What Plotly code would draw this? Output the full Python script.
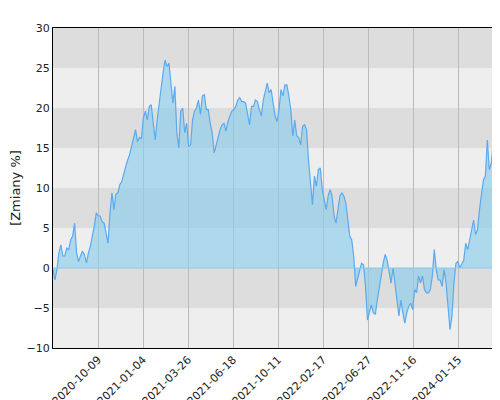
import plotly.graph_objects as go

part1 = [-0.2, -1.5, -0.2, 1.9, 2.9, 1.5, 1.5, 2.5, 2.3, 3.5, 4, 5.6, 1.9, 0.8, 1.5, 2.1, 1.7, 0.6,
         1.9, 2.7, 4, 5.2, 6.9, 6.5, 6.5, 5.8, 5.6, 4.4, 3.1, 6.9, 9.4, 7.3, 9.2, 9.4, 10.4, 10.8,
         11.9, 12.7, 13.5, 14.2, 15.2, 16.5, 17.3, 15.8, 16.3, 16.2, 18.8, 19.6, 18.5, 20.2, 20.4,
         18.1, 16, 18.5, 20.6, 22.7, 24.4, 26, 25.2, 25.6, 23.1, 20.6, 22.7, 16.9, 15, 19.6, 20,
         16.9, 18.1, 15.2, 15.4, 18.5, 19.6, 20, 21, 19.2, 21.5, 21.7, 19.8]
part2 = [19.8, 18.1, 16.9, 14.4, 15.4, 16.5, 17.3, 17.9, 18.1, 17.1, 18.3, 19, 19.6, 19.8, 20.2,
         21, 21.3, 20.8, 20.8, 20.6, 19.4, 17.9, 20.2, 20.2, 21, 20.8, 19.8, 19, 21, 21.9, 23.1,
         21.9, 22.3, 20.6, 19, 18.3, 19.8, 22.3, 21.5, 22.9, 22.9, 21.5, 19.8, 16.5, 18.5, 16.5,
         16.3, 15.4, 17.7, 17.9, 17.3, 13.5, 11, 7.9, 11.5, 10.2, 12.3, 12.5, 9.8, 8.5, 7.3, 9,
         9.8, 9, 6.5, 5.6, 7.3, 9, 9.4, 9, 8.1, 5.6, 4, 3.5, 1.5, -2.3, -1.3]
part3 = [-0.6, 0.6, 0.4, -2.3, -6.5, -5.6, -4.6, -5.6, -5.8, -4, -2.7, -1, 0.6, 1.7, 1, -0.6,
         -1.9, 0, -2.3, -4, -6, -4, -5.6, -6.9, -5.6, -4.8, -4.4, -5.2, -2.7, -3.1, -1, -1.9, -1,
         -2.7, -3.1, -3.1, -2.7, -1, 2.3, -0.2, -1.5, -1.5, -2.3, -0.2, -1.9, -4.8, -7.7, -6,
         -1.9, 0.6, 0.8, 0, 0.6, 1, 3.1, 2.3, 3.5, 4.8, 6, 4.2, 4.8, 7.3, 9.4, 11, 11.5, 16,
         12.3, 13.1, 15.8, 14.8, 12.3, 11.7, 12.9, 15.2, 19, 19.2]
values = part1 + part2 + part3

tick_labels = ["2020-07-20", "2020-10-09", "2021-01-04", "2021-03-26", "2021-06-18",
               "2021-10-11", "2022-02-17", "2022-06-27", "2022-11-16", "2024-01-15",
               "2025-06-05"]

n = len(values)
x = list(range(n))
step = 45 / 453.7 * (n - 1)
tickvals = [i * step for i in range(len(tick_labels))]

fig = go.Figure()
fig.add_trace(go.Scatter(x=x, y=values, mode="lines", fill="tozeroy",
                         line=dict(color="#5aaaf0", width=1.2),
                         fillcolor="rgba(140,205,235,0.65)"))

shapes = []
for lo in range(-10, 30, 5):
    shapes.append(dict(type="rect", xref="paper", x0=0, x1=1, y0=lo, y1=lo + 5,
                       fillcolor="#dddddd" if (lo // 5) % 2 == 1 else "#eeeeee",
                       line_width=0, layer="below"))
shapes.append(dict(type="line", xref="paper", x0=0, x1=1, y0=0, y1=0,
                   line=dict(color="#88cce6", width=1)))

fig.update_layout(
    width=500, height=400, margin=dict(l=45, r=1, t=20, b=60),
    paper_bgcolor="white", plot_bgcolor="#eeeeee", showlegend=False,
    shapes=shapes, font=dict(family="DejaVu Sans", size=11, color="#222"),
)
fig.update_xaxes(range=[0, n - 1], tickvals=tickvals, ticktext=tick_labels, tickangle=-45,
                 showgrid=True, gridcolor="#bbbbbb", zeroline=False, automargin=False,
                 showline=True, linecolor="black", linewidth=1, mirror=True)
fig.update_yaxes(range=[-10, 30], dtick=5, showgrid=False, zeroline=False, automargin=False,
                 showline=True, linecolor="black", linewidth=1, mirror=True,
                 title=dict(text="[Zmiany %]", standoff=8))
fig.write_html("out.html")
